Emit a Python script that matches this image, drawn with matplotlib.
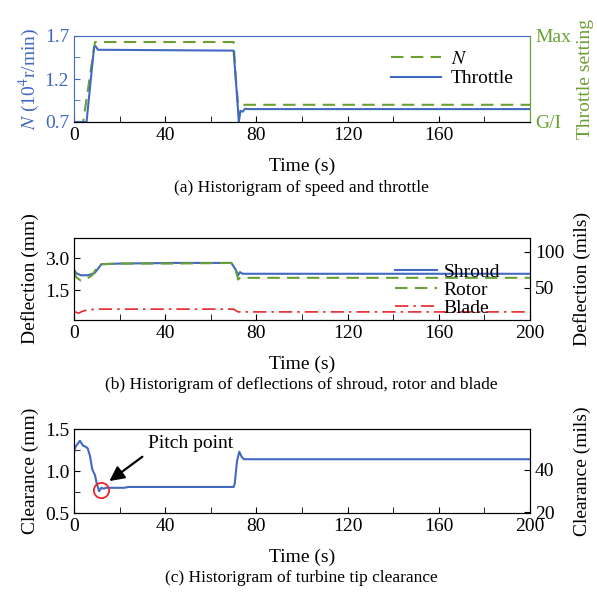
import numpy as np
import matplotlib
matplotlib.use('Agg')
import matplotlib.pyplot as plt

plt.rcParams['font.family'] = 'Liberation Serif'
plt.rcParams['mathtext.fontset'] = 'stix'

BLUE = '#4169c0'
GREEN = '#6aa033'
RED = '#e8262c'

# (a) speed and throttle
t_n = [0, 4, 9.2, 70, 71, 72, 200]
n_speed = [0.7, 0.7, 1.63, 1.63, 1.2, 0.9, 0.9]
t_thr = [0, 5.5, 8.8, 9.5, 10.5, 70, 71.5, 72.3, 73, 74, 75, 76, 200]
throttle = [0.7, 0.7, 1.57, 1.58, 1.54, 1.53, 1.0, 0.7, 0.83, 0.82, 0.855, 0.85, 0.85]

# (b) deflections
t_shroud = [0, 1, 3, 6, 9, 10.5, 12, 20, 45, 69, 71, 72, 72.8, 74, 200]
shroud = [2.45, 2.3, 2.2, 2.2, 2.3, 2.5, 2.72, 2.75, 2.78, 2.78, 2.45, 2.2, 2.35, 2.27, 2.27]
t_rotor = [0, 1, 3, 5, 8, 10, 12, 20, 45, 69, 71, 72, 73, 75, 200]
rotor = [2.4, 2.1, 1.95, 2.0, 2.2, 2.55, 2.72, 2.75, 2.75, 2.78, 2.4, 2.0, 2.1, 2.08, 2.08]
t_blade = [0, 2, 3.5, 6, 10, 70, 72, 200]
blade = [0.5, 0.42, 0.5, 0.58, 0.61, 0.61, 0.48, 0.48]

# (c) tip clearance
t_clr = [0, 0.5, 1.5, 2.6, 4, 5, 6, 7, 8, 9.2, 10, 11, 12, 13, 14, 16, 22, 24,
         70, 70.5, 71.5, 72.5, 73.5, 74.5, 200]
clearance = [1.22, 1.28, 1.32, 1.36, 1.3, 1.29, 1.27, 1.18, 1.02, 0.95, 0.85, 0.76, 0.8,
             0.79, 0.8, 0.8, 0.8, 0.81, 0.81, 0.85, 1.12, 1.23, 1.17, 1.14, 1.14]
pitch_t, pitch_v = 12, 0.775

fig = plt.figure(figsize=(5.97, 5.96), dpi=100)
W, H = 597, 596

def make_ax(top, bottom):
    ax = fig.add_axes([74 / W, 1 - bottom / H, (530 - 74) / W, (bottom - top) / H])
    ax.set_xlim(0, 200)
    ax.set_xticks(np.arange(0, 201, 40))
    ax.set_xticks(np.arange(0, 201, 20), minor=True)
    ax.tick_params(which='both', direction='in', labelsize=14, length=4, top=False)
    return ax

# ---- panel (a)
ax1 = make_ax(36, 122)
ax1.plot(t_n, n_speed, '--', color=GREEN, lw=1.5, dashes=(6, 3.5), label='$N$')
ax1.plot(t_thr, throttle, '-', color=BLUE, lw=1.5, label='Throttle')
ax1.set_ylim(0.7, 1.7)
ax1.set_yticks([0.7, 1.2, 1.7])
ax1.set_yticks(np.arange(0.7, 1.71, 0.25), minor=True)
ax1.set_xticks([0, 40, 80, 120, 160])
ax1.set_xticks(np.arange(0, 200, 20), minor=True)
ax1.tick_params(axis='y', which='both', colors=BLUE, labelsize=14)
ax1.tick_params(axis='x', which='both', colors='black')
ax1.spines['left'].set_color(BLUE)
ax1.spines['top'].set_color(BLUE)
ax1.spines['right'].set_color(GREEN)
ax1.set_ylabel('$N$ (10$^4$r/min)', color=BLUE, fontsize=14, labelpad=2)
ax1r = ax1.twinx()
ax1r.set_ylim(0.7, 1.7)
ax1r.set_yticks([0.7, 1.7])
ax1r.set_yticklabels(['G/I', 'Max'])
ax1r.tick_params(axis='y', colors=GREEN, labelsize=14, length=0, pad=4)
ax1r.spines['right'].set_color(GREEN)
ax1r.spines['left'].set_visible(False)
ax1r.spines['top'].set_visible(False)
ax1r.set_ylabel('Throttle setting', color=GREEN, fontsize=14, labelpad=4)
ax1.legend(loc='upper right', bbox_to_anchor=(0.99, 0.97), frameon=False, fontsize=14,
           handlelength=2.6, borderpad=0.1, labelspacing=0.1, handletextpad=0.5)
ax1.set_xlabel('Time (s)', fontsize=14, labelpad=10)

# ---- panel (b)
ax2 = make_ax(238, 320)
ax2.plot(t_shroud, shroud, '-', color=BLUE, lw=1.5, label='Shroud')
ax2.plot(t_rotor, rotor, '--', color=GREEN, lw=1.5, dashes=(6, 3.5), label='Rotor')
ax2.plot(t_blade, blade, '-.', color=RED, lw=1.2, dashes=(8, 3, 1.5, 3), label='Blade')
ax2.set_ylim(0.1, 3.95)
ax2.set_yticks([1.5, 3.0])
ax2.set_yticklabels(['1.5', '3.0'])
ax2.set_ylabel('Deflection (mm)', fontsize=14, labelpad=4)
ax2r = ax2.twinx()
ax2r.set_ylim(5.6, 119)
ax2r.set_yticks([50, 100])
ax2r.tick_params(direction='in', labelsize=14, length=4)
ax2r.set_ylabel('Deflection (mils)', fontsize=14, labelpad=6)
ax2.legend(loc='upper right', bbox_to_anchor=(0.955, 0.81), frameon=False, fontsize=14,
           handlelength=2.2, borderpad=0.0, labelspacing=0.02, handletextpad=0.3)
ax2.set_xlabel('Time (s)', fontsize=14, labelpad=10)

# ---- panel (c)
ax3 = make_ax(429, 513)
ax3.plot(t_clr, clearance, '-', color=BLUE, lw=1.5)
ax3.set_ylim(0.5, 1.5)
ax3.set_yticks([0.5, 1.0, 1.5])
ax3.set_yticks(np.arange(0.5, 1.51, 0.25), minor=True)
ax3.set_ylabel('Clearance (mm)', fontsize=14, labelpad=4)
ax3r = ax3.twinx()
ax3r.set_ylim(0.5 / 0.0254, 1.5 / 0.0254)
ax3r.set_yticks([20, 40])
ax3r.tick_params(direction='in', labelsize=14, length=4)
ax3r.set_ylabel('Clearance (mils)', fontsize=14, labelpad=14)
ax3.plot([pitch_t], [pitch_v], 'o', ms=11, mfc='none', mec=RED, mew=1.3)
ax3.text(51, 1.33, 'Pitch point', fontsize=14, ha='center', va='center')
ax3.annotate('', xy=(15.5, 0.88), xytext=(30, 1.17),
             arrowprops=dict(arrowstyle='-|>', color='black', lw=1.6,
                             mutation_scale=22, shrinkA=0, shrinkB=0))
ax3.set_xlabel('Time (s)', fontsize=14, labelpad=10)

fig.text(301 / W, 1 - 188 / H, '(a) Historigram of speed and throttle', ha='center', va='center', fontsize=12.5)
fig.text(301 / W, 1 - 385 / H, '(b) Historigram of deflections of shroud, rotor and blade', ha='center', va='center', fontsize=12.5)
fig.text(301 / W, 1 - 578 / H, '(c) Historigram of turbine tip clearance', ha='center', va='center', fontsize=12.5)

fig.savefig('out.png', dpi=100)
